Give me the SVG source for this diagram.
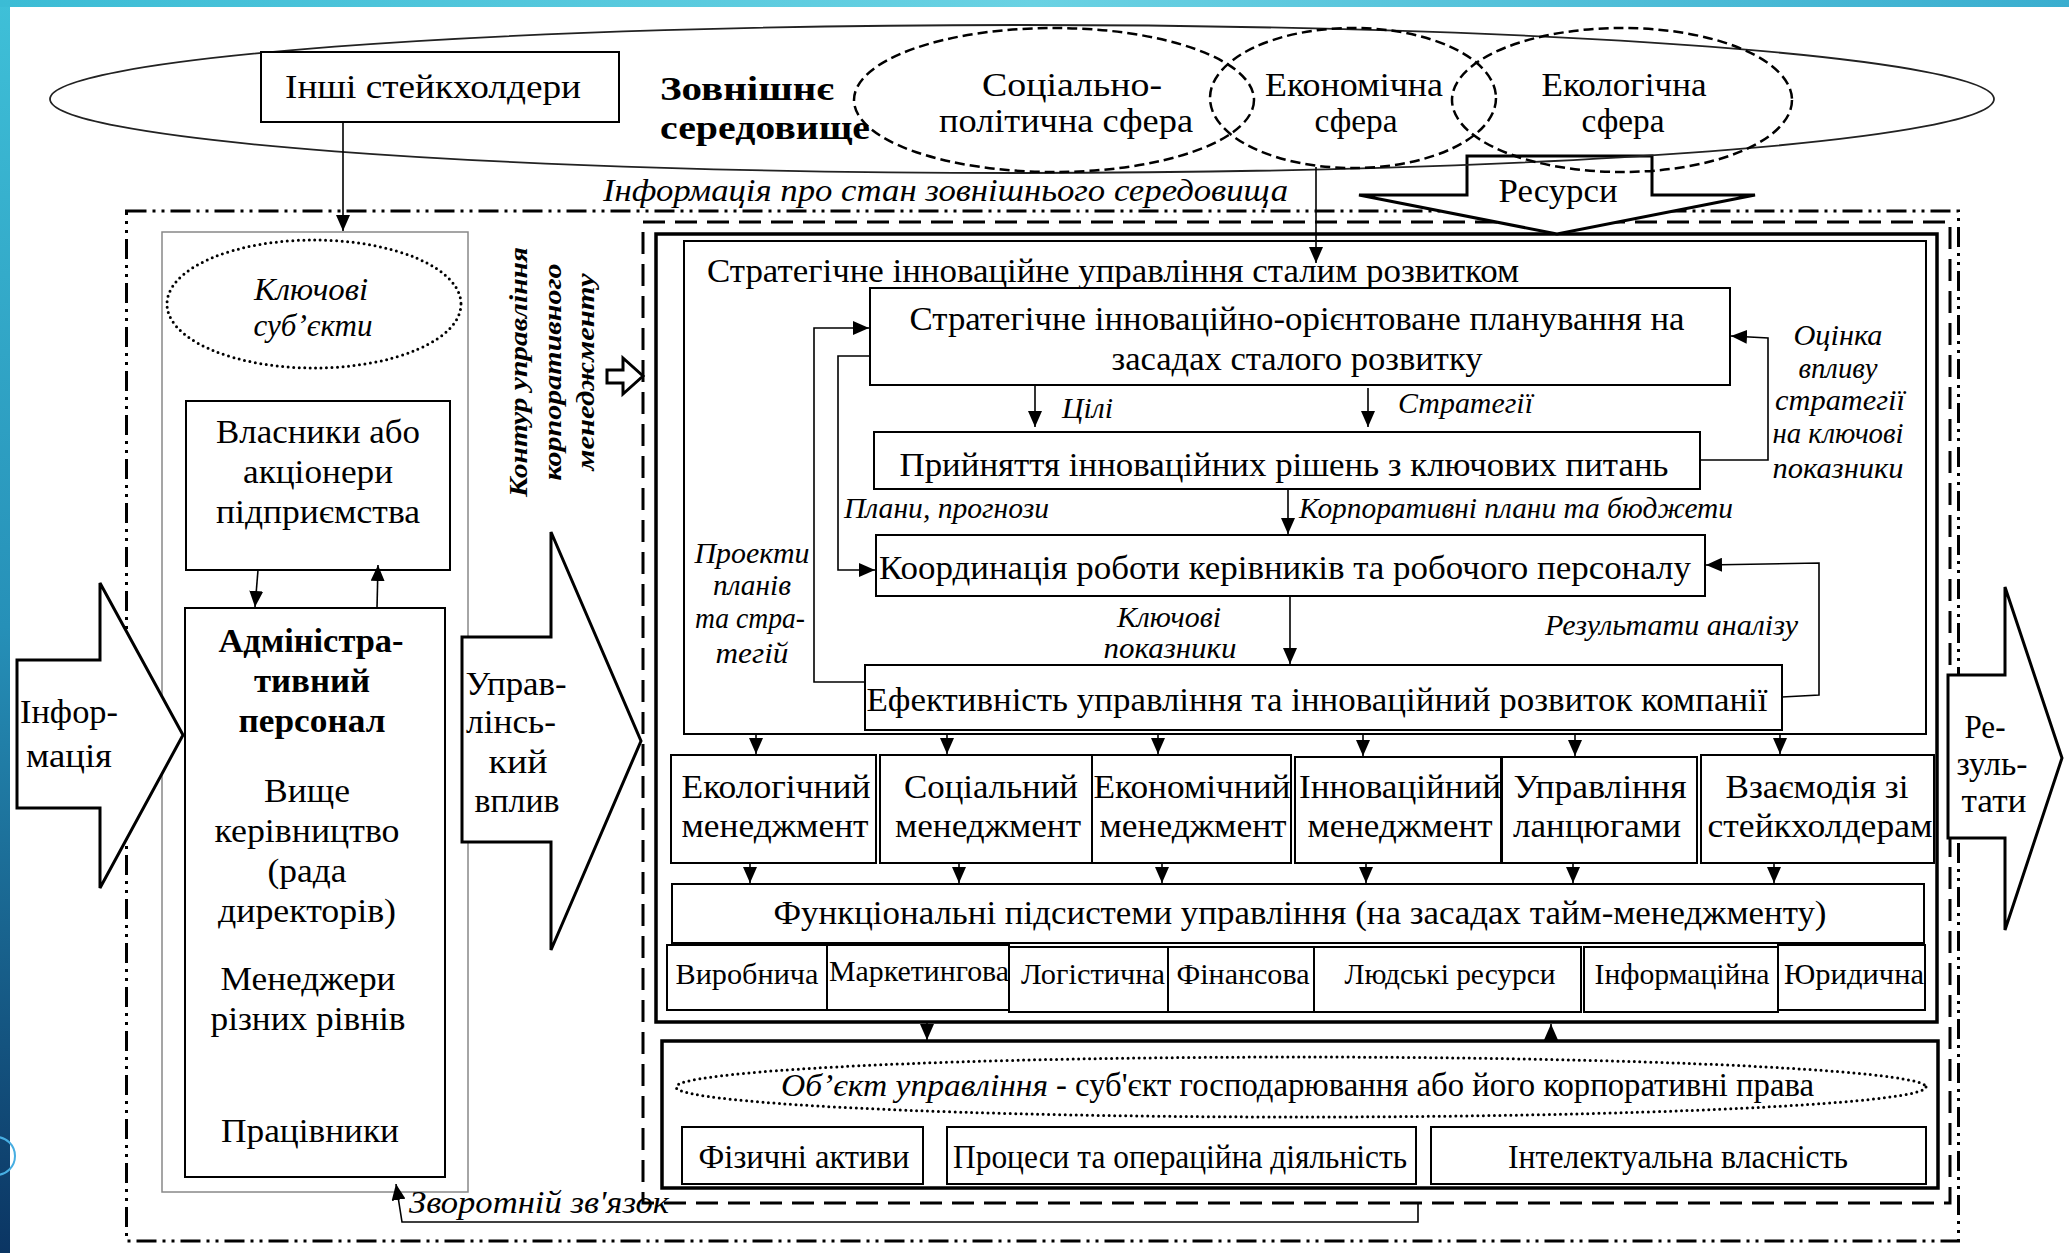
<svg xmlns="http://www.w3.org/2000/svg" width="2069" height="1253" viewBox="0 0 2069 1253">
<defs>
<linearGradient id="gl" x1="0" y1="0" x2="0" y2="1"><stop offset="0" stop-color="#3fc0d8"/><stop offset="0.5" stop-color="#2690b8"/><stop offset="1" stop-color="#0b3563"/></linearGradient>
<linearGradient id="gt" x1="0" y1="0" x2="1" y2="0"><stop offset="0" stop-color="#3bbcd5"/><stop offset="0.5" stop-color="#6ad2e3"/><stop offset="1" stop-color="#3aaecf"/></linearGradient>
<marker id="a" markerUnits="userSpaceOnUse" markerWidth="16" markerHeight="14" refX="16" refY="7" orient="auto"><path d="M0,0 L16,7 L0,14 z" fill="#000"/></marker>
</defs>
<style>
.t{font-family:'Liberation Serif','Times New Roman',serif;font-size:33px;fill:#000}
.i{font-style:italic;font-size:30px}
.b{font-weight:bold}
.s{font-size:30px}
.r{font-size:25px;font-style:italic;font-weight:bold}
.bx{fill:#fff;stroke:#000;stroke-width:2}
.thk{fill:none;stroke:#000;stroke-width:3.5}
.ln{fill:none;stroke:#000;stroke-width:1.6}
.ar{fill:#fff;stroke:#000;stroke-width:3;stroke-linejoin:miter}
.dsh{fill:none;stroke:#000;stroke-width:2.5;stroke-dasharray:10 5}
.dot{fill:none;stroke:#000;stroke-width:3;stroke-dasharray:0 5.5;stroke-linecap:round}
</style>
<rect width="2069" height="1253" fill="#fff"/>
<rect x="0" y="0" width="10" height="1253" fill="url(#gl)"/>
<rect x="0" y="0" width="2069" height="7" fill="url(#gt)"/>
<circle cx="-4" cy="1156" r="19" fill="none" stroke="#47aee2" stroke-width="2"/>

<g id="frames">
<rect x="126.5" y="211" width="1832" height="1030" fill="none" stroke="#000" stroke-width="3" stroke-dasharray="20 6 3 6 3 6"/>
<rect x="643" y="222" width="1307" height="981" fill="none" stroke="#000" stroke-width="3" stroke-dasharray="22 10"/>
<rect x="656" y="234" width="1281" height="788" class="thk"/>
<rect x="162" y="232" width="306" height="960" fill="none" stroke="#888" stroke-width="1.5"/>
</g>

<g id="resources">
<path class="ar" d="M1467,156 L1652,156 L1652,195 L1755,195 L1557,234 L1359,195 L1467,195 Z" stroke-width="3.5"/>
<text class="t" x="1558" y="202" text-anchor="middle" textLength="119" lengthAdjust="spacingAndGlyphs">Ресурси</text>
</g>

<g id="environment">
<ellipse cx="1022" cy="99" rx="972" ry="74" fill="none" stroke="#222" stroke-width="1.8"/>
<text class="t b" x="660" y="100" textLength="174" lengthAdjust="spacingAndGlyphs">Зовнішнє</text>
<text class="t b" x="660" y="139" textLength="210" lengthAdjust="spacingAndGlyphs">середовище</text>
</g>
<g id="social">
<ellipse cx="1054" cy="100" rx="200" ry="72" class="dsh"/>
<text class="t" x="1072" y="96" text-anchor="middle" textLength="180" lengthAdjust="spacingAndGlyphs">Соціально-</text>
<text class="t" x="1066" y="132" text-anchor="middle" textLength="254" lengthAdjust="spacingAndGlyphs">політична сфера</text>
</g>
<g id="economic">
<ellipse cx="1353" cy="98" rx="143" ry="70" class="dsh"/>
<text class="t" x="1354" y="96" text-anchor="middle" textLength="178" lengthAdjust="spacingAndGlyphs">Економічна</text>
<text class="t" x="1356" y="132" text-anchor="middle" textLength="83" lengthAdjust="spacingAndGlyphs">сфера</text>
</g>
<g id="ecological">
<ellipse cx="1622" cy="100" rx="170" ry="72" class="dsh"/>
<text class="t" x="1624" y="96" text-anchor="middle" textLength="165" lengthAdjust="spacingAndGlyphs">Екологічна</text>
<text class="t" x="1623" y="132" text-anchor="middle" textLength="83" lengthAdjust="spacingAndGlyphs">сфера</text>
</g>
<g id="stakeholders">
<rect x="261" y="52" width="358" height="70" class="bx"/>
<text class="t" x="433" y="98" text-anchor="middle" textLength="296" lengthAdjust="spacingAndGlyphs">Інші стейкхолдери</text>
</g>
<text class="t i" x="603" y="201" textLength="685" lengthAdjust="spacingAndGlyphs" style="font-size:32px">Інформація про стан зовнішнього середовища</text>

<g id="info-arrow">
<path class="ar" d="M17,660 L100,660 L100,583 L183,735 L100,888 L100,808 L17,808 Z"/>
<text class="t" x="69" y="723" text-anchor="middle" textLength="98" lengthAdjust="spacingAndGlyphs">Інфор-</text>
<text class="t" x="69" y="767" text-anchor="middle" textLength="86" lengthAdjust="spacingAndGlyphs">мація</text>
</g>

<g id="key-subjects">
<ellipse cx="314" cy="304" rx="147" ry="64" class="dot"/>
<text class="t i" x="311" y="300" text-anchor="middle" textLength="114" lengthAdjust="spacingAndGlyphs" style="font-size:32px">Ключові</text>
<text class="t i" x="313" y="336" text-anchor="middle" textLength="119" lengthAdjust="spacingAndGlyphs" style="font-size:32px">суб’єкти</text>
</g>
<g id="owners">
<rect x="186" y="401" width="264" height="169" class="bx"/>
<text class="t" x="318" y="443" text-anchor="middle" textLength="204" lengthAdjust="spacingAndGlyphs">Власники або</text>
<text class="t" x="318" y="483" text-anchor="middle" textLength="150" lengthAdjust="spacingAndGlyphs">акціонери</text>
<text class="t" x="318" y="523" text-anchor="middle" textLength="204" lengthAdjust="spacingAndGlyphs">підприємства</text>
</g>
<g id="admin">
<rect x="185" y="608" width="260" height="569" class="bx"/>
<text class="t b" x="311" y="652" text-anchor="middle" textLength="185" lengthAdjust="spacingAndGlyphs">Адміністра-</text>
<text class="t b" x="312" y="692" text-anchor="middle" textLength="116" lengthAdjust="spacingAndGlyphs">тивний</text>
<text class="t b" x="312" y="732" text-anchor="middle" textLength="147" lengthAdjust="spacingAndGlyphs">персонал</text>
<text class="t" x="307" y="802" text-anchor="middle" textLength="86" lengthAdjust="spacingAndGlyphs">Вище</text>
<text class="t" x="307" y="842" text-anchor="middle" textLength="185" lengthAdjust="spacingAndGlyphs">керівництво</text>
<text class="t" x="307" y="882" text-anchor="middle" textLength="79" lengthAdjust="spacingAndGlyphs">(рада</text>
<text class="t" x="307" y="922" text-anchor="middle" textLength="178" lengthAdjust="spacingAndGlyphs">директорів)</text>
<text class="t" x="308" y="990" text-anchor="middle" textLength="175" lengthAdjust="spacingAndGlyphs">Менеджери</text>
<text class="t" x="308" y="1030" text-anchor="middle" textLength="195" lengthAdjust="spacingAndGlyphs">різних рівнів</text>
<text class="t" x="310" y="1142" text-anchor="middle" textLength="178" lengthAdjust="spacingAndGlyphs">Працівники</text>
</g>

<g id="influence-arrow">
<path class="ar" d="M462,637 L551,637 L551,532 L641,741 L551,950 L551,842 L462,842 Z"/>
<text class="t" x="516" y="695" text-anchor="middle" textLength="101" lengthAdjust="spacingAndGlyphs">Управ-</text>
<text class="t" x="511" y="733" text-anchor="middle" textLength="90" lengthAdjust="spacingAndGlyphs">лінсь-</text>
<text class="t" x="518" y="773" text-anchor="middle" textLength="59" lengthAdjust="spacingAndGlyphs">кий</text>
<text class="t" x="517" y="812" text-anchor="middle" textLength="85" lengthAdjust="spacingAndGlyphs">вплив</text>
</g>

<g id="contour-label">
<text class="t r" transform="translate(527,372) rotate(-90)" text-anchor="middle" textLength="250" lengthAdjust="spacingAndGlyphs">Контур управління</text>
<text class="t r" transform="translate(561,372) rotate(-90)" text-anchor="middle" textLength="217" lengthAdjust="spacingAndGlyphs">корпоративного</text>
<text class="t r" transform="translate(594,372) rotate(-90)" text-anchor="middle" textLength="197" lengthAdjust="spacingAndGlyphs">менеджменту</text>
<path class="ar" stroke-width="2.5" d="M607,370 L623,370 L623,358 L643,376 L623,394 L623,383 L607,383 Z"/>
</g>

<g id="strategic">
<rect x="684" y="241" width="1242" height="493" fill="none" stroke="#000" stroke-width="2"/>
<text class="t" x="707" y="282" textLength="812" lengthAdjust="spacingAndGlyphs">Стратегічне інноваційне управління сталим розвитком</text>
</g>
<g id="planning">
<rect x="870" y="288" width="860" height="97" class="bx"/>
<text class="t" x="1297" y="330" text-anchor="middle" textLength="775" lengthAdjust="spacingAndGlyphs">Стратегічне інноваційно-орієнтоване планування на</text>
<text class="t" x="1297" y="370" text-anchor="middle" textLength="371" lengthAdjust="spacingAndGlyphs">засадах сталого розвитку</text>
</g>
<g id="decisions">
<rect x="874" y="432" width="826" height="57" class="bx"/>
<text class="t" x="1284" y="476" text-anchor="middle" textLength="769" lengthAdjust="spacingAndGlyphs">Прийняття інноваційних рішень з ключових питань</text>
</g>
<g id="coordination">
<rect x="876" y="535" width="829" height="61" class="bx"/>
<text class="t" x="1285" y="579" text-anchor="middle" textLength="812" lengthAdjust="spacingAndGlyphs">Координація роботи керівників та робочого персоналу</text>
</g>
<g id="efficiency">
<rect x="865" y="665" width="917" height="65" class="bx"/>
<text class="t" x="1317" y="711" text-anchor="middle" textLength="901" lengthAdjust="spacingAndGlyphs">Ефективність управління та інноваційний розвиток компанії</text>
</g>

<g id="labels">
<text class="t i" x="1062" y="418" textLength="51" lengthAdjust="spacingAndGlyphs">Цілі</text>
<text class="t i" x="1398" y="413" textLength="135" lengthAdjust="spacingAndGlyphs">Стратегії</text>
<text class="t i" x="844" y="518" textLength="205" lengthAdjust="spacingAndGlyphs">Плани, прогнози</text>
<text class="t i" x="1299" y="518" textLength="434" lengthAdjust="spacingAndGlyphs">Корпоративні плани та бюджети</text>
<text class="t i" x="1169" y="627" text-anchor="middle" textLength="104" lengthAdjust="spacingAndGlyphs">Ключові</text>
<text class="t i" x="1170" y="658" text-anchor="middle" textLength="133" lengthAdjust="spacingAndGlyphs">показники</text>
<text class="t i" x="1545" y="635" textLength="253" lengthAdjust="spacingAndGlyphs">Результати аналізу</text>
<text class="t i" x="752" y="563" text-anchor="middle" textLength="115" lengthAdjust="spacingAndGlyphs">Проекти</text>
<text class="t i" x="752" y="595" text-anchor="middle" textLength="78" lengthAdjust="spacingAndGlyphs">планів</text>
<text class="t i" x="750" y="628" text-anchor="middle" textLength="110" lengthAdjust="spacingAndGlyphs">та стра-</text>
<text class="t i" x="752" y="663" text-anchor="middle" textLength="73" lengthAdjust="spacingAndGlyphs">тегій</text>
<text class="t i" x="1838" y="345" text-anchor="middle" textLength="89" lengthAdjust="spacingAndGlyphs">Оцінка</text>
<text class="t i" x="1838" y="378" text-anchor="middle" textLength="79" lengthAdjust="spacingAndGlyphs">впливу</text>
<text class="t i" x="1840" y="410" text-anchor="middle" textLength="130" lengthAdjust="spacingAndGlyphs">стратегії</text>
<text class="t i" x="1838" y="443" text-anchor="middle" textLength="131" lengthAdjust="spacingAndGlyphs">на ключові</text>
<text class="t i" x="1838" y="478" text-anchor="middle" textLength="131" lengthAdjust="spacingAndGlyphs">показники</text>
<text class="t i" x="409" y="1213" textLength="260" lengthAdjust="spacingAndGlyphs" style="font-size:32px">Зворотній зв'язок</text>
</g>

<g id="mgmt">
<rect x="671" y="755" width="205" height="108" class="bx"/>
<text class="t" x="776" y="798" text-anchor="middle" textLength="189" lengthAdjust="spacingAndGlyphs">Екологічний</text>
<text class="t" x="775" y="837" text-anchor="middle" textLength="187" lengthAdjust="spacingAndGlyphs">менеджмент</text>
<rect x="880" y="755" width="212" height="108" class="bx"/>
<text class="t" x="991" y="798" text-anchor="middle" textLength="174" lengthAdjust="spacingAndGlyphs">Соціальний</text>
<text class="t" x="988" y="837" text-anchor="middle" textLength="186" lengthAdjust="spacingAndGlyphs">менеджмент</text>
<rect x="1092" y="755" width="199" height="108" class="bx"/>
<text class="t" x="1192" y="798" text-anchor="middle" textLength="197" lengthAdjust="spacingAndGlyphs">Економічний</text>
<text class="t" x="1193" y="837" text-anchor="middle" textLength="187" lengthAdjust="spacingAndGlyphs">менеджмент</text>
<rect x="1295" y="757" width="206" height="106" class="bx"/>
<text class="t" x="1400" y="798" text-anchor="middle" textLength="202" lengthAdjust="spacingAndGlyphs">Інноваційний</text>
<text class="t" x="1400" y="837" text-anchor="middle" textLength="185" lengthAdjust="spacingAndGlyphs">менеджмент</text>
<rect x="1502" y="757" width="195" height="106" class="bx"/>
<text class="t" x="1600" y="798" text-anchor="middle" textLength="173" lengthAdjust="spacingAndGlyphs">Управління</text>
<text class="t" x="1597" y="837" text-anchor="middle" textLength="168" lengthAdjust="spacingAndGlyphs">ланцюгами</text>
<rect x="1701" y="755" width="233" height="108" class="bx"/>
<text class="t" x="1817" y="798" text-anchor="middle" textLength="183" lengthAdjust="spacingAndGlyphs">Взаємодія зі</text>
<text class="t" x="1820" y="837" text-anchor="middle" textLength="225" lengthAdjust="spacingAndGlyphs">стейкхолдерам</text>
</g>

<g id="functional">
<rect x="672" y="884" width="1252" height="59" class="bx"/>
<text class="t" x="1300" y="924" text-anchor="middle" textLength="1053" lengthAdjust="spacingAndGlyphs">Функціональні підсистеми управління (на засадах тайм-менеджменту)</text>
<rect x="667" y="945" width="160" height="65" class="bx"/>
<text class="t s" x="747" y="984" text-anchor="middle" textLength="143" lengthAdjust="spacingAndGlyphs">Виробнича</text>
<rect x="827" y="945" width="182" height="65" class="bx"/>
<text class="t s" x="919" y="981" text-anchor="middle" textLength="180" lengthAdjust="spacingAndGlyphs">Маркетингова</text>
<rect x="1009" y="947" width="159" height="65" class="bx"/>
<text class="t s" x="1093" y="984" text-anchor="middle" textLength="144" lengthAdjust="spacingAndGlyphs">Логістична</text>
<rect x="1168" y="947" width="146" height="65" class="bx"/>
<text class="t s" x="1243" y="984" text-anchor="middle" textLength="133" lengthAdjust="spacingAndGlyphs">Фінансова</text>
<rect x="1314" y="947" width="267" height="65" class="bx"/>
<text class="t s" x="1450" y="984" text-anchor="middle" textLength="211" lengthAdjust="spacingAndGlyphs">Людські ресурси</text>
<rect x="1584" y="947" width="194" height="65" class="bx"/>
<text class="t s" x="1682" y="984" text-anchor="middle" textLength="175" lengthAdjust="spacingAndGlyphs">Інформаційна</text>
<rect x="1778" y="945" width="147" height="65" class="bx"/>
<text class="t s" x="1854" y="984" text-anchor="middle" textLength="140" lengthAdjust="spacingAndGlyphs">Юридична</text>
</g>

<g id="object">
<rect x="662" y="1041" width="1276" height="147" class="thk"/>
<ellipse cx="1301" cy="1087" rx="625" ry="30" class="dot" stroke-dasharray="0 4.5" stroke-width="2.6"/>
<text class="t i" x="781" y="1096" textLength="267" lengthAdjust="spacingAndGlyphs" style="font-size:32px">Об’єкт управління</text>
<text class="t" x="1056" y="1096" textLength="758" lengthAdjust="spacingAndGlyphs">- суб'єкт господарювання або його корпоративні права</text>
<rect x="682" y="1127" width="241" height="57" class="bx"/>
<text class="t" x="804" y="1168" text-anchor="middle" textLength="211" lengthAdjust="spacingAndGlyphs">Фізичні активи</text>
<rect x="947" y="1127" width="469" height="57" class="bx"/>
<text class="t" x="1180" y="1168" text-anchor="middle" textLength="454" lengthAdjust="spacingAndGlyphs">Процеси та операційна діяльність</text>
<rect x="1431" y="1127" width="495" height="57" class="bx"/>
<text class="t" x="1678" y="1168" text-anchor="middle" textLength="340" lengthAdjust="spacingAndGlyphs">Інтелектуальна власність</text>
</g>

<g id="results-arrow">
<path class="ar" d="M1948,675 L2005,675 L2005,587 L2062,758 L2005,930 L2005,838 L1948,838 Z"/>
<text class="t" x="1985" y="738" text-anchor="middle" textLength="41" lengthAdjust="spacingAndGlyphs">Ре-</text>
<text class="t" x="1992" y="775" text-anchor="middle" textLength="71" lengthAdjust="spacingAndGlyphs">зуль-</text>
<text class="t" x="1994" y="812" text-anchor="middle" textLength="65" lengthAdjust="spacingAndGlyphs">тати</text>
</g>

<g id="connectors" class="ln" marker-end="url(#a)">
<path d="M343,121 L343,231"/>
<path d="M1316,167 L1316,263"/>
<path d="M258,570 L255,607"/>
<path d="M377,608 L378,565"/>
<path d="M1035,385 L1035,427"/>
<path d="M1368,388 L1368,427"/>
<path d="M1288,489 L1288,534"/>
<path d="M1290,596 L1290,664"/>
<path d="M870,356 L838,356 L838,570 L875,570"/>
<path d="M865,682 L814,682 L814,328 L869,328"/>
<path d="M1700,460 L1768,460 L1768,338 L1731,336"/>
<path d="M1782,697 L1819,695 L1819,563 L1706,565"/>
<path d="M756,735 L756,754"/>
<path d="M947,735 L947,754"/>
<path d="M1158,735 L1158,754"/>
<path d="M1363,735 L1363,756"/>
<path d="M1575,735 L1575,756"/>
<path d="M1780,735 L1780,754"/>
<path d="M750,863 L750,883"/>
<path d="M959,863 L959,883"/>
<path d="M1162,863 L1162,883"/>
<path d="M1366,863 L1366,883"/>
<path d="M1573,863 L1573,883"/>
<path d="M1774,863 L1774,883"/>
<path d="M927,1023 L927,1040"/>
<path d="M1551,1041 L1551,1024"/>
<path d="M1418,1203 L1418,1222 L402,1222 L396,1184"/>
</g>
</svg>
